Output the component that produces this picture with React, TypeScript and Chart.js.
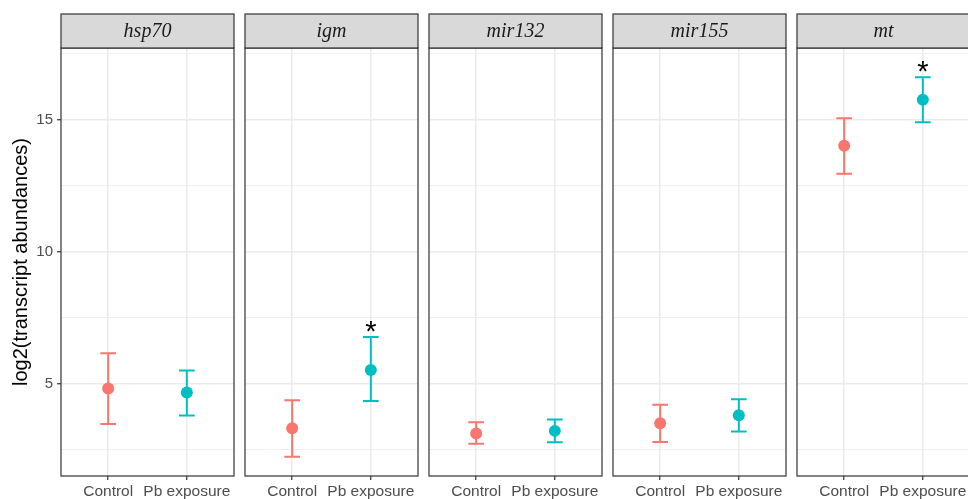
import React, { useEffect, useRef } from "react";
import { Chart, registerables } from "chart.js";

Chart.register(...registerables);

const genes = ["hsp70", "igm", "mir132", "mir155", "mt"];
const groups = ["Control", "Pb exposure"];
const controlMean = [4.82, 3.31, 3.11, 3.5, 14.02];
const controlLower = [3.47, 2.23, 2.72, 2.79, 12.95];
const controlUpper = [6.15, 4.37, 3.54, 4.2, 15.06];
const pbMean = [4.66, 5.52, 3.21, 3.8, 15.76];
const pbLower = [3.79, 4.34, 2.78, 3.19, 14.91];
const pbUpper = [5.5, 6.77, 3.64, 4.41, 16.61];
const significant = [false, true, false, false, true];
const yTicks = [2.5, 5, 7.5, 10, 12.5, 15, 17.5];
const groupColors = ["#F8766D", "#00BFC4"];

const PANEL_LEFT = [61, 245, 429, 613, 797];
const PANEL_W = 173;
const H = 499;

const facetPlugin = {
  id: "facet",
  beforeDatasetsDraw(chart: any, _a: any, opts: any) {
    const { ctx, scales } = chart;
    const i = opts.index;
    const lows = [controlLower[i], pbLower[i]];
    const ups = [controlUpper[i], pbUpper[i]];
    ctx.save();
    for (let g = 0; g < 2; g++) {
      const xv = g + 1;
      const x = scales.x.getPixelForValue(xv);
      const xl = scales.x.getPixelForValue(xv - 0.1);
      const xr = scales.x.getPixelForValue(xv + 0.1);
      const yl = scales.y.getPixelForValue(lows[g]);
      const yu = scales.y.getPixelForValue(ups[g]);
      ctx.strokeStyle = groupColors[g];
      ctx.lineWidth = 2;
      ctx.beginPath();
      ctx.moveTo(x, yl);
      ctx.lineTo(x, yu);
      ctx.moveTo(xl, yl);
      ctx.lineTo(xr, yl);
      ctx.moveTo(xl, yu);
      ctx.lineTo(xr, yu);
      ctx.stroke();
    }
    ctx.restore();
  },
  afterDraw(chart: any, _a: any, opts: any) {
    const { ctx, chartArea, scales } = chart;
    const i = opts.index;
    ctx.save();
    if (significant[i]) {
      const x = scales.x.getPixelForValue(2);
      const yu = scales.y.getPixelForValue(pbUpper[i]);
      ctx.fillStyle = "#000";
      ctx.font = "29px 'Liberation Sans', Arial, sans-serif";
      ctx.textAlign = "center";
      ctx.textBaseline = "alphabetic";
      ctx.fillText("*", x, yu + 4);
    }
    ctx.strokeStyle = "#333333";
    ctx.lineWidth = 1.2;
    ctx.strokeRect(chartArea.left, chartArea.top, chartArea.right - chartArea.left, chartArea.bottom - chartArea.top);
    const sTop = 14;
    ctx.fillStyle = "#D9D9D9";
    ctx.fillRect(chartArea.left, sTop, chartArea.right - chartArea.left, chartArea.top - sTop);
    ctx.strokeRect(chartArea.left, sTop, chartArea.right - chartArea.left, chartArea.top - sTop);
    ctx.fillStyle = "#1A1A1A";
    ctx.font = "italic 20px 'Liberation Serif', 'Times New Roman', serif";
    ctx.textAlign = "center";
    ctx.textBaseline = "middle";
    ctx.fillText(genes[i], (chartArea.left + chartArea.right) / 2, (sTop + chartArea.top) / 2 + 1);
    ctx.restore();
  },
};

function makeConfig(i: number): any {
  const first = i === 0;
  return {
    type: "scatter",
    data: {
      datasets: [
        {
          data: [
            { x: 1, y: controlMean[i] },
            { x: 2, y: pbMean[i] },
          ],
          pointBackgroundColor: groupColors,
          pointBorderWidth: 0,
          pointRadius: 6,
          pointHoverRadius: 6,
        },
      ],
    },
    options: {
      responsive: false,
      animation: false,
      events: [],
      layout: { autoPadding: false, padding: { top: 48, left: first ? 0 : 2, right: 2, bottom: 0 } },
      plugins: {
        legend: { display: false },
        tooltip: { enabled: false },
        facet: { index: i },
      },
      scales: {
        x: {
          type: "linear",
          min: 0.4,
          max: 2.6,
          afterBuildTicks: (s: any) => {
            s.ticks = [{ value: 1 }, { value: 2 }];
          },
          afterFit: (s: any) => {
            s.height = 23;
            s.paddingLeft = 0;
            s.paddingRight = 0;
          },
          border: { display: false },
          grid: {
            color: "#EBEBEB",
            lineWidth: 1.5,
            tickColor: "#333333",
            tickLength: 4,
            tickWidth: 1.2,
          },
          ticks: {
            autoSkip: false,
            maxRotation: 0,
            padding: 2,
            color: "#4D4D4D",
            font: { family: "'Liberation Sans', Arial, sans-serif", size: 15.5 },
            callback: (v: any) => groups[Math.round(v) - 1],
          },
        },
        y: {
          type: "linear",
          min: 1.5,
          max: 17.72,
          afterBuildTicks: (s: any) => {
            s.ticks = yTicks.map((v) => ({ value: v }));
          },
          afterFit: (s: any) => {
            s.width = first ? 61 : 0;
            s.paddingTop = 0;
            s.paddingBottom = 0;
          },
          border: { display: false },
          grid: {
            color: "#EBEBEB",
            lineWidth: (c: any) => (c.tick && c.tick.value % 5 === 0 ? 1.5 : 0.8),
            drawTicks: first,
            tickLength: 4,
            tickWidth: 1.2,
            tickColor: (c: any) => (c.tick && c.tick.value % 5 === 0 ? "#333333" : "rgba(0,0,0,0)"),
          },
          ticks: {
            display: first,
            autoSkip: false,
            padding: 4,
            color: "#4D4D4D",
            font: { family: "'Liberation Sans', Arial, sans-serif", size: 15 },
            callback: (v: any) => (v % 5 === 0 ? String(v) : ""),
          },
          title: {
            display: first,
            text: "log2(transcript abundances)",
            color: "#000000",
            font: { family: "'Liberation Sans', Arial, sans-serif", size: 20 },
            padding: { top: 9, bottom: 0 },
          },
        },
      },
    },
    plugins: [facetPlugin],
  };
}

export default function App() {
  const refs = useRef<(HTMLCanvasElement | null)[]>([]);
  useEffect(() => {
    const charts = genes.map((_, i) => new Chart(refs.current[i] as HTMLCanvasElement, makeConfig(i)));
    return () => charts.forEach((c) => c.destroy());
  }, []);
  return (
    <div
      style={{
        position: "absolute",
        left: 0,
        top: 0,
        width: 968,
        height: H,
        overflow: "hidden",
        background: "#ffffff",
      }}
    >
      {genes.map((g, i) => {
        const left = i === 0 ? 0 : PANEL_LEFT[i] - 2;
        const width = i === 0 ? PANEL_LEFT[0] + PANEL_W + 2 : PANEL_W + 4;
        return (
          <canvas
            key={g}
            ref={(el) => {
              refs.current[i] = el;
            }}
            width={width}
            height={H}
            style={{ position: "absolute", left, top: 0, width, height: H }}
          />
        );
      })}
    </div>
  );
}
